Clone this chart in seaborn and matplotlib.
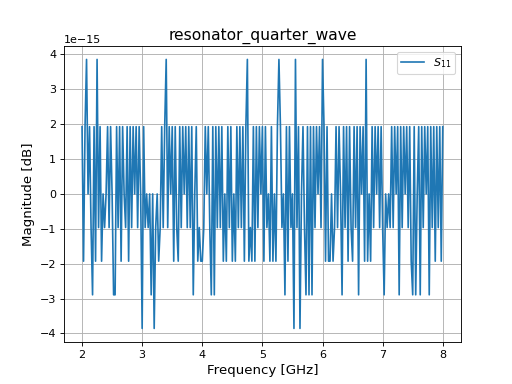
import numpy as np
import pandas as pd
import matplotlib
matplotlib.use("Agg")
import matplotlib.pyplot as plt
import seaborn as sns

# Quantised magnitude levels (dB) produced by floating point round-off
LEVELS = {4: 3.857e-15, 2: 1.9286e-15, 0: 0.0, -1: -0.9643e-15,
          -2: -1.9286e-15, -3: -2.893e-15, -4: -3.857e-15}

# level codes, 40 points per GHz
seg_2GHz = [2, -2, 2, 4, 0, 2, -1, -3, 2, -2, 4, -1, 2, -2, 0, -1, 0, 2, -1, 2,
            0, -3, -3, 2, -1, 2, -2, 2, 0, -1, 2, -2, 2, -1, 2, 0, 2, -1, 2, 0]
seg_3GHz = [-4, 2, -1, 0, -1, 0, -3, 0, -4, -1, 0, -2, -1, 2, -1, 2, 4, -1, 2, 0,
            2, -2, 2, -1, -2, 2, -1, 2, 0, 2, -1, 2, -1, 2, -3, 0, 2, -2, -1, -2]
seg_4GHz = [-2, -1, 2, 0, 2, -1, -3, 2, -3, 2, -1, 2, -1, 2, -2, 0, -2, 2, -1, 2,
            -2, 0, -2, 2, -1, 2, -1, 2, -2, 2, 4, -2, -1, -2, 2, -2, 2, -1, 2, 0]
seg_5GHz = [2, -2, 2, -1, 0, -2, 2, -2, 0, -2, 2, 4, 2, -1, 0, -3, 2, -2, 2, -1,
            0, -4, 4, -1, 2, -4, 0, 2, -1, -3, 2, -3, 2, -3, 2, -1, 2, 0, 2, -1]
seg_6GHz = [4, 2, -2, 2, -2, -2, 0, -2, -1, 2, -1, 2, 0, -3, 2, -1, 2, -2, 2, -1,
            -2, 2, -1, 2, -3, 2, 0, 2, -2, 4, -2, 0, -2, 2, -1, 2, 0, 2, -1, 2]
seg_7GHz = [-1, -3, 0, -1, 0, -1, 2, -1, 2, 0, 2, -3, 2, -1, 2, 0, 2, -1, 2, -2,
            -3, 2, -3, 0, 2, -3, 2, -1, 2, 0, 2, -3, 2, -1, 2, -2, 2, -1, 2, -2, 2]

codes = seg_2GHz + seg_3GHz + seg_4GHz + seg_5GHz + seg_6GHz + seg_7GHz
freq_ghz = np.linspace(2.0, 8.0, len(codes))
mag_db = np.array([LEVELS[c] for c in codes])

df = pd.DataFrame({"Frequency [GHz]": freq_ghz, "Magnitude [dB]": mag_db})

fig, ax = plt.subplots(figsize=(6.4, 4.8), dpi=80)
sns.lineplot(data=df, x="Frequency [GHz]", y="Magnitude [dB]", ax=ax,
             color="#1f77b4", linewidth=1.5, label="$S_{11}$")
ax.grid(True, color="#b0b0b0", linewidth=0.8)
ax.set_xlim(1.7, 8.3)
ax.set_ylim(-4.24e-15, 4.24e-15)
ax.set_xticks([2, 3, 4, 5, 6, 7, 8])
ax.set_title("resonator_quarter_wave", fontsize=14)
ax.set_xlabel("Frequency [GHz]", fontsize=12)
ax.set_ylabel("Magnitude [dB]", fontsize=12)
ax.legend(loc="upper right")
fig.savefig("out.png", dpi=80)
